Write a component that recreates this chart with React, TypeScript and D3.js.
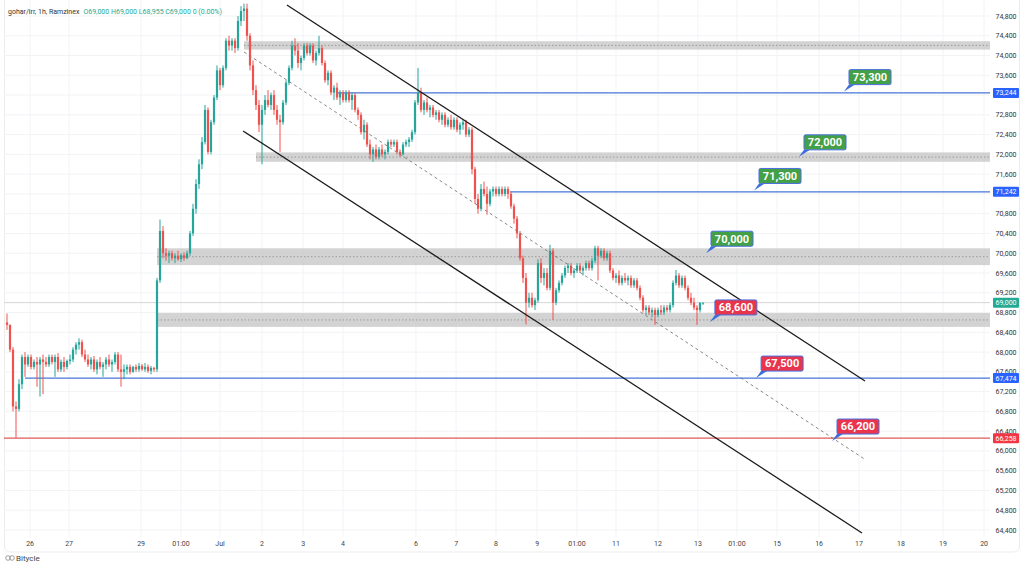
import React from 'react';
import * as d3 from 'd3';

const W = 1024;
const H = 568;

// header
const symbolText = 'gohar/irr, 1h, Ramzinex';
const ohlcText = 'O69,000 H69,000 L68,955 C69,000 0 (0.00%)';

// 1h bars as [high, low, close]; open = previous close
const firstOpen = 68600;
const juneBars: number[][] = [
  [68780, 68450, 68550], [68560, 68000, 68050], [68100, 66800, 66900], [67000, 66260, 66850],
  [67450, 66800, 67350], [67950, 67250, 67900], [68000, 67500, 67750], [67950, 67700, 67900],
  [67950, 67650, 67700], [67850, 67650, 67800], [67900, 67300, 67750], [67900, 67100, 67850],
  [67950, 67150, 67800], [67900, 67700, 67750], [67950, 67700, 67900], [67950, 67750, 67800],
  [67950, 67500, 67900], [67980, 67600, 67650], [67850, 67600, 67800], [67900, 67600, 67700],
  [67850, 67650, 67820], [67950, 67750, 67850], [68100, 67800, 68050], [68200, 67950, 68150],
  [68280, 68050, 68200], [68250, 67900, 67950], [68050, 67800, 67850], [67950, 67700, 67750],
  [67900, 67650, 67850], [67920, 67600, 67650], [67850, 67550, 67800], [67900, 67650, 67700],
  [67800, 67500, 67750], [67900, 67650, 67850], [67950, 67700, 67750], [67850, 67600, 67800],
  [68000, 67750, 67950], [68000, 67600, 67650], [67950, 67300, 67600], [67750, 67450, 67650],
  [67750, 67550, 67700], [67750, 67550, 67600], [67720, 67580, 67700], [67750, 67600, 67650],
  [67780, 67600, 67720], [67760, 67620, 67650], [67780, 67600, 67700], [67750, 67580, 67620],
  [67720, 67550, 67680], [67700, 67600, 67650],
];
const earlyJulyBars: number[][] = [
  [69500, 67600, 69450], [70680, 69400, 70450], [70550, 69900, 70000], [70100, 69850, 69950],
  [70050, 69800, 70000], [70050, 69850, 69900], [70000, 69800, 69950], [70050, 69850, 69880],
  [70000, 69820, 69960], [70020, 69850, 69900], [70050, 69880, 70000], [70450, 69950, 70400],
  [71000, 70350, 70900], [71500, 70800, 71400], [71900, 71300, 71800], [72350, 71700, 72250],
  [73000, 72200, 72900], [72950, 72000, 72050], [72700, 72000, 72650], [73200, 72600, 73150],
  [73800, 73100, 73700], [73750, 73300, 73400], [73800, 73350, 73750], [74350, 73700, 74300],
  [74400, 74100, 74200], [74350, 74100, 74300], [74350, 74050, 74150], [74800, 74100, 74700],
  [75000, 74600, 74900], [75050, 74700, 74950], [75050, 74300, 74400], [74450, 73700, 73800],
  [73900, 73200, 73300], [73400, 72900, 73000], [73100, 72450, 72600], [73000, 71800, 72900],
  [73200, 72800, 73100], [73300, 72950, 73000], [73250, 72900, 73200], [73300, 72800, 72900],
  [73000, 72600, 72700], [72800, 72050, 72650], [73100, 72600, 73050], [73500, 73000, 73450],
  [73800, 73400, 73750], [74300, 73700, 74200], [74350, 74000, 74100], [74250, 73750, 73850],
  [74000, 73700, 73950], [74250, 73900, 74200], [74250, 74000, 74050], [74250, 74000, 74200],
  [74250, 73850, 73900], [74100, 73800, 74050], [74400, 74000, 74150], [74200, 73800, 73850],
  [73900, 73450, 73500], [73700, 73400, 73650], [73700, 73200, 73250], [73400, 73100, 73350],
  [73450, 73100, 73150], [73300, 73000, 73250], [73300, 73050, 73100], [73300, 73050, 73250],
  [73300, 73050, 73100], [73250, 72900, 73200],
];
const midJulyBars: number[][] = [
  [73250, 72850, 72900], [72950, 72700, 72800], [72850, 72400, 72450], [72700, 72300, 72600],
  [72650, 72150, 72200], [72300, 71900, 72000], [72150, 71850, 72100], [72200, 71900, 71950],
  [72150, 71900, 72100], [72200, 71950, 72000], [72100, 71900, 72050], [72300, 72000, 72250],
  [72300, 72150, 72200], [72300, 72150, 72250], [72300, 72000, 72050], [72100, 71950, 72000],
  [72250, 71980, 72200], [72300, 72150, 72250], [72350, 72150, 72300], [72500, 72250, 72450],
  [73100, 72400, 73050], [73750, 73000, 73250], [73350, 72850, 72900], [73100, 72800, 73050],
  [73150, 72850, 72900], [73000, 72750, 72950], [73000, 72750, 72800], [72900, 72700, 72850],
  [72900, 72650, 72700], [72850, 72600, 72800], [72850, 72550, 72600], [72750, 72550, 72700],
  [72800, 72500, 72550], [72750, 72500, 72700], [72750, 72450, 72500], [72650, 72400, 72600],
  [72700, 72500, 72650], [72700, 72350, 72400], [72550, 72350, 72500], [72550, 71600, 71700],
  [71750, 71000, 71100], [71200, 70800, 70900], [71400, 70850, 71300], [71450, 71150, 71200],
  [71350, 70780, 71000], [71300, 70950, 71250], [71350, 71150, 71300], [71350, 71150, 71200],
  [71350, 71150, 71300], [71350, 71150, 71200], [71350, 71150, 71300], [71350, 71100, 71200],
  [71250, 70900, 70950], [71000, 70600, 70700], [70750, 70300, 70400], [70450, 69850, 69900],
  [69950, 69400, 69500],
];
const lateJulyBars: number[][] = [
  [69600, 68560, 69000], [69200, 68900, 69100], [69200, 68900, 68950], [69100, 68850, 69050],
  [69880, 69000, 69800], [69900, 69400, 69500], [69700, 69350, 69600], [69700, 69250, 69300],
  [70170, 69250, 70050], [70100, 68650, 69000], [69300, 68950, 69250], [69450, 69200, 69400],
  [69600, 69350, 69550], [69750, 69500, 69700], [69800, 69600, 69750], [69800, 69550, 69600],
  [69700, 69500, 69650], [69800, 69600, 69750], [69800, 69600, 69650], [69750, 69550, 69700],
  [69850, 69650, 69800], [69850, 69650, 69700], [69900, 69650, 69850], [70150, 69800, 70100],
  [70150, 69450, 69950], [70100, 69900, 70050], [70100, 69850, 69900], [70050, 69850, 70000],
  [70050, 69600, 69650], [69700, 69450, 69500], [69600, 69400, 69550], [69650, 69350, 69400],
  [69550, 69350, 69500], [69600, 69400, 69450], [69550, 69350, 69500], [69550, 69300, 69350],
  [69500, 69300, 69450], [69500, 69250, 69300], [69350, 69050, 69100], [69150, 68800, 68850],
  [68950, 68750, 68900], [68950, 68750, 68800], [68900, 68700, 68850], [68900, 68550, 68750],
  [68900, 68700, 68850], [68950, 68750, 68800], [68950, 68750, 68900], [68950, 68800, 68850],
  [69000, 68800, 68950], [69450, 68900, 69400], [69660, 69350, 69550], [69600, 69300, 69350],
  [69550, 69300, 69500], [69550, 69250, 69300], [69350, 69050, 69100], [69200, 68950, 69000],
  [69100, 68850, 68900], [68950, 68550, 68850], [69000, 68800, 69000], [69000, 68955, 69000],
];

const priceTicks = d3.range(64400, 74801, 400);
const timeTicks = [
  { label: '26', bar: 7.7 }, { label: '27', bar: 20.7 }, { label: '29', bar: 44.7 },
  { label: '01:00', bar: 58 }, { label: 'Jul', bar: 71 }, { label: '2', bar: 85 },
  { label: '3', bar: 98.7 }, { label: '4', bar: 112 }, { label: '6', bar: 136.3 },
  { label: '7', bar: 149.7 }, { label: '8', bar: 163 }, { label: '9', bar: 176.7 },
  { label: '01:00', bar: 190 }, { label: '11', bar: 203 }, { label: '12', bar: 217 },
  { label: '13', bar: 230.3 }, { label: '01:00', bar: 243.3 }, { label: '15', bar: 256.7 },
  { label: '16', bar: 270.7 }, { label: '17', bar: 284 }, { label: '18', bar: 298 },
  { label: '19', bar: 312 }, { label: '20', bar: 325.7 },
];

const zones = [
  { lo: 74120, hi: 74290, fromBar: 79 },
  { lo: 71850, hi: 72040, fromBar: 83 },
  { lo: 69760, hi: 70100, fromBar: 50 },
  { lo: 68510, hi: 68790, fromBar: 50 },
];
const levels = [
  { price: 73244, fromBar: 110, color: '#4677d9' },
  { price: 71242, fromBar: 167.7, color: '#4677d9' },
  { price: 67474, fromBar: 6, color: '#4677d9' },
  { price: 66258, fromBar: -1, color: '#e05a5a' },
];
const channel = [
  { a: [93.3, 75023], b: [286, 67415] },
  { a: [78.7, 72473], b: [285, 64340] },
];
const midline = { a: [79, 74072], b: [286.3, 65817] };

const callouts = [
  { text: '73,300', bar: 279, price: 73270, up: true },
  { text: '72,000', bar: 264, price: 71950, up: true },
  { text: '71,300', bar: 249, price: 71270, up: true },
  { text: '70,000', bar: 233, price: 70000, up: true },
  { text: '68,600', bar: 234.3, price: 68610, up: false },
  { text: '67,500', bar: 249.7, price: 67474, up: false },
  { text: '66,200', bar: 275, price: 66200, up: false },
];
const axisMarkers = [
  { price: 73244, label: '73,244', color: '#2962ff' },
  { price: 71242, label: '71,242', color: '#2962ff' },
  { price: 69000, label: '69,000', color: '#22ab94' },
  { price: 67474, label: '67,474', color: '#2962ff' },
  { price: 66258, label: '66,258', color: '#f23645' },
];
const lastPrice = 69000;

const candles: { i: number; o: number; h: number; l: number; c: number }[] = [];
let prevClose = firstOpen;
[...juneBars, ...earlyJulyBars, ...midJulyBars, ...lateJulyBars].forEach(([h, l, c], i) => {
  candles.push({ i, o: prevClose, h, l, c });
  prevClose = c;
});

const FONT = "Roboto, 'Open Sans', sans-serif";
const UP = '#26a69a';
const DOWN = '#ef5350';

export default function App() {
  const x = d3.scaleLinear().domain([-1, 328]).range([4, 991]);
  const y = d3.scaleLinear().domain([64400, 74800]).range([530, 16]);
  const plotL = 4;
  const plotR = 990;
  const plotB = 537;
  const fmt = d3.format(',');

  // tick labels covered by a marker box are hidden, like the platform does
  const visibleTicks = priceTicks.filter(
    (p) => !axisMarkers.some((m) => Math.abs(y(m.price) - y(p)) < 5.5)
  );

  return (
    <svg width={W} height={H} style={{ position: 'absolute', left: 0, top: 0, background: '#fff' }} fontFamily={FONT}>
      <defs>
        <clipPath id="plot">
          <rect x={plotL} y={0} width={plotR - plotL} height={plotB} />
        </clipPath>
      </defs>
      <rect x={0} y={0} width={W} height={H} fill="#fff" />
      <rect x={4.5} y={-6} width={1015} height={558} rx={6} fill="none" stroke="#ececec" />

      {/* grid */}
      <g stroke="#f1f3f6" strokeWidth={1}>
        {priceTicks.map((p) => (
          <line key={p} x1={plotL} x2={plotR} y1={y(p)} y2={y(p)} />
        ))}
        {timeTicks.map((t, k) => (
          <line key={k} x1={x(t.bar)} x2={x(t.bar)} y1={0} y2={plotB} />
        ))}
      </g>

      <g clipPath="url(#plot)">
        {/* zones */}
        {zones.map((z, k) => (
          <g key={k}>
            <rect x={x(z.fromBar)} y={y(z.hi)} width={plotR - x(z.fromBar)} height={y(z.lo) - y(z.hi)} fill="#c4c4c4" opacity={0.75} />
            <line x1={x(z.fromBar)} x2={plotR} y1={y((z.lo + z.hi) / 2)} y2={y((z.lo + z.hi) / 2)} stroke="#8d8d8d" strokeWidth={0.8} strokeDasharray="1.5,2" />
          </g>
        ))}
        {/* last price line */}
        <line x1={plotL} x2={plotR} y1={y(lastPrice)} y2={y(lastPrice)} stroke="#d6d6d6" strokeWidth={1} />
        {/* horizontal levels */}
        {levels.map((lv, k) => (
          <line key={k} x1={x(lv.fromBar)} x2={plotR} y1={y(lv.price)} y2={y(lv.price)} stroke={lv.color} strokeWidth={1.3} />
        ))}
        {/* candles */}
        {candles.map((d) => {
          const col = d.c >= d.o ? UP : DOWN;
          const top = y(Math.max(d.o, d.c));
          const bh = Math.max(1, Math.abs(y(d.o) - y(d.c)));
          return (
            <g key={d.i} fill={col}>
              <rect x={x(d.i) - 0.5} y={y(d.h)} width={1} height={y(d.l) - y(d.h)} />
              <rect x={x(d.i) - 1.1} y={top} width={2.2} height={bh} />
            </g>
          );
        })}
        {/* channel */}
        {channel.map((ln, k) => (
          <line key={k} x1={x(ln.a[0])} y1={y(ln.a[1])} x2={x(ln.b[0])} y2={y(ln.b[1])} stroke="#1b1b1b" strokeWidth={1.3} />
        ))}
        <line x1={x(midline.a[0])} y1={y(midline.a[1])} x2={x(midline.b[0])} y2={y(midline.b[1])} stroke="#7a7a7a" strokeWidth={0.9} strokeDasharray="3,3" />
      </g>

      {/* callouts */}
      {callouts.map((c, k) => {
        const tx = x(c.bar);
        const ty = y(c.price);
        const bx = tx + 5;
        const by = ty - 22;
        return (
          <g key={k}>
            <polygon points={`${tx},${ty} ${tx + 5},${by + 15} ${tx + 11},${by + 15}`} fill="#3e6fd8" />
            <rect x={bx} y={by} width={42} height={15} rx={1.5} fill={c.up ? '#43a047' : '#e8354c'} stroke="#4a6ee0" strokeWidth={1} />
            <text x={bx + 21} y={by + 11.3} textAnchor="middle" fill="#fff" fontWeight="bold" fontSize={11}>{c.text}</text>
          </g>
        );
      })}

      {/* right axis */}
      <g fontSize={7} fill="#333">
        {visibleTicks.map((p) => (
          <text key={p} x={1006} y={y(p) + 2.5} textAnchor="middle">{fmt(p)}</text>
        ))}
      </g>
      {axisMarkers.map((m, k) => (
        <g key={k}>
          <rect x={993} y={y(m.price) - 5} width={26} height={10} rx={1} fill={m.color} />
          <text x={1006} y={y(m.price) + 2.5} textAnchor="middle" fontSize={7} fill="#fff">{m.label}</text>
        </g>
      ))}

      {/* bottom axis */}
      <g fontSize={7} fill="#444">
        {timeTicks.map((t, k) => (
          <text key={k} x={x(t.bar)} y={546} textAnchor="middle">{t.label}</text>
        ))}
      </g>

      {/* header */}
      <text x={8} y={14} fontSize={7}>
        <tspan fill="#333">{symbolText}</tspan>
        <tspan dx={4} fill="#22ab94">{ohlcText}</tspan>
      </text>

      {/* watermark */}
      <g stroke="#888" fill="none" strokeWidth={0.8}>
        <circle cx={8} cy={558} r={2.3} />
        <circle cx={12} cy={558} r={2.3} />
      </g>
      <text x={16} y={561} fontSize={8} fill="#444">Bitycle</text>
    </svg>
  );
}
